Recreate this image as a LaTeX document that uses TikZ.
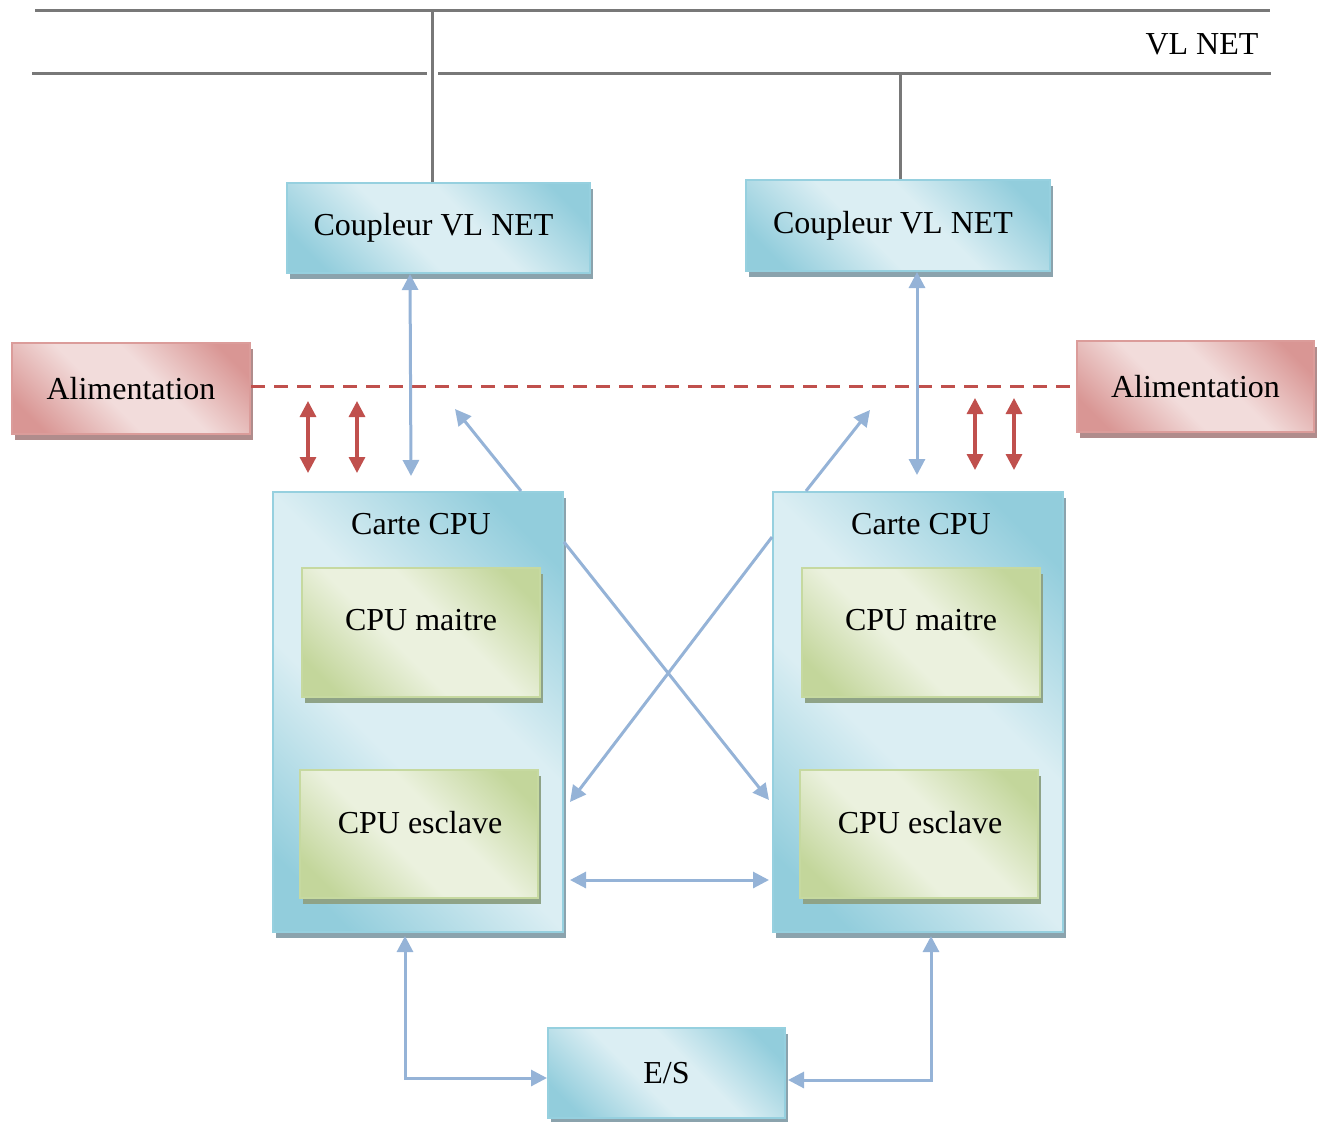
\documentclass[tikz,border=0pt]{standalone}
\usepackage{fontspec}
\setmainfont{Liberation Serif}
\usetikzlibrary{arrows.meta,calc,shadows}

% box palette
\definecolor{bDark}{RGB}{146,205,220}
\definecolor{bLight}{RGB}{219,238,243}
\definecolor{bEdge}{RGB}{150,208,223}
\definecolor{bShadow}{RGB}{139,163,173}
\definecolor{gDark}{RGB}{195,214,155}
\definecolor{gLight}{RGB}{235,241,222}
\definecolor{gEdge}{RGB}{198,217,160}
\definecolor{gShadow}{RGB}{143,163,135}
\definecolor{rDark}{RGB}{217,150,148}
\definecolor{rLight}{RGB}{242,220,219}
\definecolor{rEdge}{RGB}{219,156,154}
\definecolor{rShadow}{RGB}{176,140,140}
% line palette
\definecolor{linkBlue}{RGB}{149,179,215}
\definecolor{linkRed}{RGB}{192,80,77}
\definecolor{netGray}{RGB}{120,120,120}

\pgfdeclarehorizontalshading{blueshade}{100bp}{color(0bp)=(bDark); color(22bp)=(bDark); color(43bp)=(bLight); color(57bp)=(bLight); color(78bp)=(bDark); color(100bp)=(bDark)}
\pgfdeclarehorizontalshading{greenshade}{100bp}{color(0bp)=(gDark); color(22bp)=(gDark); color(43bp)=(gLight); color(57bp)=(gLight); color(78bp)=(gDark); color(100bp)=(gDark)}
\pgfdeclarehorizontalshading{redshade}{100bp}{color(0bp)=(rDark); color(22bp)=(rDark); color(43bp)=(rLight); color(57bp)=(rLight); color(78bp)=(rDark); color(100bp)=(rDark)}

\tikzset{
  txt/.style={font=\fontsize{16}{19}\selectfont, inner sep=0pt},
  box/.style={rectangle, inner sep=0pt, line width=1pt, txt},
  bluebox/.style={box, draw=bEdge, shading=blueshade, shading angle=45,
    general shadow={fill=bShadow, shadow xshift=1.5pt, shadow yshift=-3pt}},
  greenbox/.style={box, draw=gEdge, shading=greenshade, shading angle=45,
    general shadow={fill=gShadow, shadow xshift=1.5pt, shadow yshift=-3pt}},
  redbox/.style={box, draw=rEdge, shading=redshade, shading angle=45,
    general shadow={fill=rShadow, shadow xshift=1.5pt, shadow yshift=-3pt}},
  bluelink/.style={draw=linkBlue, line width=1.5pt},
  redlink/.style={draw=linkRed, line width=1.6pt},
  powerline/.style={draw=linkRed, line width=1.5pt, dash pattern=on 7pt off 4.5pt},
  netline/.style={draw=netGray, line width=1.5pt},
  >={Triangle[length=8pt,width=8pt]}
}
% coupler caption, set slightly left of and below the box centre
\newcommand{\couplertext}{\raisebox{-2pt}{\hspace*{-2.5pt}Coupleur VL NET\hspace*{2.5pt}}}

\begin{document}
\begin{tikzpicture}[x=0.5pt,y=-0.5pt]
\useasboundingbox (0,0) rectangle (1324,1121);

% network bus
\coordinate (busA1) at (35,10);
\coordinate (busA2) at (1270,10);
\coordinate (busB1) at (32,73);
\coordinate (busB2) at (427,73);
\coordinate (busB3) at (438,73);
\coordinate (busB4) at (1271,73);
\draw[netline] (busA1) -- (busA2);
\draw[netline] (busB1) -- (busB2);
\draw[netline] (busB3) -- (busB4);
\node[txt] (vlnet) at (1202,44) {VL NET};

% couplers
\node[bluebox, minimum width=151.5pt, minimum height=45pt] (coupL) at (438.5,228) {\couplertext};
\node[bluebox, minimum width=152pt, minimum height=45.5pt] (coupR) at (898,225.5) {\couplertext};
\draw[netline] ($(coupL.north)+(-6.5,0)$) -- ++(0,-173);
\draw[netline] ($(coupR.north)+(2,0)$) -- ++(0,-107);

% power supplies
\node[redbox, minimum width=119pt, minimum height=45.5pt] (alimL) at (131,388.5) {Alimentation};
\node[redbox, minimum width=118.5pt, minimum height=45.5pt] (alimR) at (1195.5,386.5) {Alimentation};
\draw[powerline] ($(alimL.east)+(0,-2.5)$) -- ($(alimR.west)+(0,-0.5)$);

% CPU boards
\node[bluebox, minimum width=145pt, minimum height=220pt] (carteL) at (418,712) {};
\node[bluebox, minimum width=145pt, minimum height=220pt] (carteR) at (918,712) {};
\node[txt] (tCarteL) at (421,524) {Carte CPU};
\node[txt] (tCarteR) at (921,524) {Carte CPU};

\node[greenbox, minimum width=119pt, minimum height=64.5pt] (maitreL) at (421,632.5) {};
\node[greenbox, minimum width=119pt, minimum height=64pt] (esclaveL) at (419,834) {};
\node[greenbox, minimum width=119pt, minimum height=64.5pt] (maitreR) at (921,632.5) {};
\node[greenbox, minimum width=119pt, minimum height=64pt] (esclaveR) at (919,834) {};
\node[txt] (tMaitreL) at (421,620) {CPU maitre};
\node[txt] (tEsclaveL) at (420,823) {CPU esclave};
\node[txt] (tMaitreR) at (921,620) {CPU maitre};
\node[txt] (tEsclaveR) at (920,823) {CPU esclave};

% I/O
\node[bluebox, minimum width=118.5pt, minimum height=45pt] (es) at (666.5,1073) {E/S};

% power links
\coordinate (pwL1a) at (308,401); \coordinate (pwL1b) at (308,473);
\coordinate (pwL2a) at (357,401); \coordinate (pwL2b) at (357,473);
\coordinate (pwR1a) at (975,398); \coordinate (pwR1b) at (975,470);
\coordinate (pwR2a) at (1014,398); \coordinate (pwR2b) at (1014,470);
\draw[redlink,<->] (pwL1a) -- (pwL1b);
\draw[redlink,<->] (pwL2a) -- (pwL2b);
\draw[redlink,<->] (pwR1a) -- (pwR1b);
\draw[redlink,<->] (pwR2a) -- (pwR2b);

% coupler links
\draw[bluelink,<->] ($(coupL.south)+(-28.5,0)$) -- ($(carteL.north)+(-7,-15)$);
\draw[bluelink,<->] ($(coupR.south)+(19,0)$) -- ($(carteR.north)+(-1,-16)$);

% links leaving the boards upwards
\coordinate (upL) at (455,409);
\coordinate (upR) at (870,410);
\draw[bluelink,->] ($(carteL.north)+(103,0)$) -- (upL);
\draw[bluelink,->] ($(carteR.north)+(-112,0)$) -- (upR);

% cross links between the boards
\draw[bluelink,->] ($(carteL.north east)+(0,51)$) -- ($(carteR.west)+(-3,88)$);
\draw[bluelink,->] ($(carteR.west)+(0,-175)$) -- ($(carteL.east)+(6,90)$);
\draw[bluelink,<->] ($(carteL.east)+(6,168)$) -- ($(carteR.west)+(-3,168)$);

% I/O links
\draw[bluelink,<->] ($(carteL.south)+(-13,3)$) |- ($(es.west)+(0,5)$);
\draw[bluelink,<->] ($(carteR.south)+(13,3)$) |- ($(es.east)+(2,7)$);
\end{tikzpicture}
\end{document}
